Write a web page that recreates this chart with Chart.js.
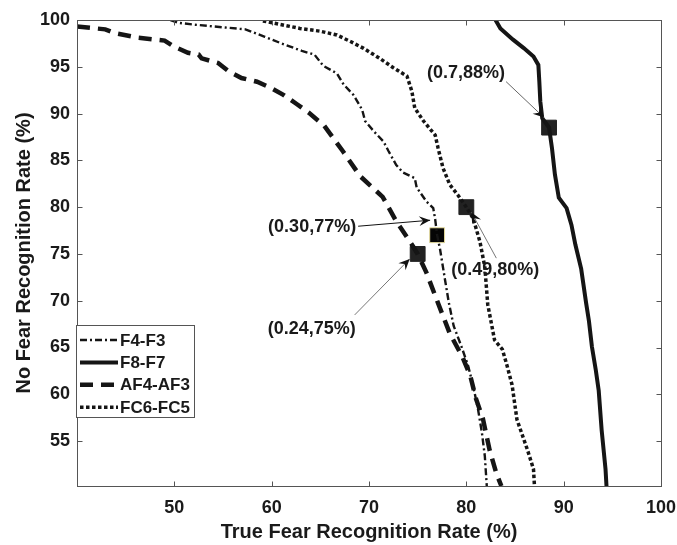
<!DOCTYPE html>
<html><head><meta charset="utf-8">
<script src="https://cdn.jsdelivr.net/npm/chart.js@4"></script>
<style>html,body{margin:0;padding:0;background:#fff;}#wrap{width:677px;height:545px;position:relative;}</style>
</head><body><div id="wrap"><canvas id="c" width="677" height="545"></canvas></div>
<script>
// ---- data ----
const xTicks = [50, 60, 70, 80, 90, 100];
const yTicks = [55, 60, 65, 70, 75, 80, 85, 90, 95, 100];
const seriesNames = ['F4-F3', 'F8-F7', 'AF4-AF3', 'FC6-FC5'];

const f43X = [49.6, 50.4, 52.1, 55.2, 57.3, 59.3, 61.0, 63.1, 64.4, 65.3, 66.7, 67.4, 68.4, 69.3, 69.6, 70.5, 71.5, 72.0, 72.8, 73.5, 74.7, 74.9, 75.9, 76.6, 76.8, 77.0, 77.3, 77.8, 78.2, 78.7, 79.5, 80.2, 80.7, 81.2, 81.6, 81.9, 82.1];
const f43Y = [100, 99.7, 99.5, 99.2, 99.0, 98.2, 97.5, 96.7, 96.3, 95.1, 94.3, 93.1, 92.0, 90.4, 89.2, 88.1, 87.0, 86.0, 84.5, 83.7, 83.1, 82.1, 80.6, 79.9, 78.7, 77.0, 75.5, 72.3, 69.8, 67.3, 65.1, 63.0, 60.9, 58.4, 55.9, 53.4, 50.2];

const f87X = [83.0, 83.5, 84.8, 85.9, 86.9, 87.4, 87.5, 87.6, 87.8, 88.5, 88.8, 89.1, 89.5, 90.3, 90.8, 91.2, 91.8, 92.3, 92.6, 92.9, 93.3, 93.6, 93.9, 94.3, 94.4];
const f87Y = [100, 99.1, 97.9, 97.0, 96.1, 95.2, 93.4, 91.3, 89.5, 88.5, 86.3, 83.5, 81.0, 79.9, 78.1, 76.0, 73.4, 69.8, 67.8, 65.1, 62.6, 60.4, 56.2, 52.0, 50.2];

const af43X = [40.0, 42.9, 43.9, 46.3, 49.0, 49.9, 51.4, 52.5, 52.8, 54.5, 55.6, 56.9, 58.5, 60.0, 61.2, 62.6, 63.8, 65.4, 67.3, 69.1, 71.4, 72.8, 74.4, 75.0, 75.9, 77.0, 78.3, 79.6, 80.4, 81.0, 81.7, 82.4, 83.1, 83.6];
const af43Y = [99.3, 99.0, 98.6, 98.1, 97.8, 97.2, 96.5, 96.3, 95.9, 95.4, 94.5, 93.8, 93.4, 92.7, 92.0, 91.0, 90.1, 88.7, 86.0, 83.3, 81.1, 78.5, 76.0, 75.0, 73.0, 70.0, 66.5, 64.0, 62.0, 59.5, 57.4, 54.0, 51.5, 50.2];

const fc65X = [59.1, 62.9, 65.0, 66.7, 68.1, 69.4, 71.1, 72.5, 73.9, 74.4, 74.7, 75.6, 76.8, 77.1, 77.6, 78.3, 79.2, 80.0, 80.7, 81.4, 81.9, 82.2, 82.9, 83.7, 84.2, 84.7, 85.2, 86.3, 86.9, 87.0];
const fc65Y = [99.9, 99.1, 98.8, 98.4, 97.7, 97.0, 95.9, 94.9, 94.0, 92.4, 90.6, 89.2, 87.7, 86.3, 84.2, 82.4, 81.2, 80.0, 78.8, 76.3, 73.6, 69.6, 65.8, 64.8, 63.0, 61.0, 57.3, 54.0, 52.0, 50.2];

const markerLabels = ['(0.30,77%)', '(0.7,88%)', '(0.24,75%)', '(0.49,80%)'];
const markerX = [77, 88.5, 75, 80];
const markerY = [77, 88.5, 75, 80];

// ---- styles ----
const FONT = '"Liberation Sans", Arial, Helvetica, sans-serif';
const INK = '#151515';
const pts = (xs, ys) => xs.map((x, i) => ({x: x, y: ys[i]}));

const annoStyle = [
  {dx: -125, dy: -8,  tail: [-79, -9], head: [-7, -15], line: '#111'},
  {dx: -83,  dy: -55, tail: [-43, -46], head: [-5, -10], line: '#666'},
  {dx: -106, dy: 75,  tail: [-63, 61], head: [-8, 5],   line: '#777'},
  {dx: 29,   dy: 63,  tail: [30, 51],  head: [5, 5],    line: '#777'}
];

const seriesStyle = [
  {width: 2.4, dash: [7, 3, 2, 3]},
  {width: 4,   dash: []},
  {width: 4.5, dash: [13, 8]},
  {width: 3.5, dash: [3.5, 2.5]}
];

function mkLine(i, data) {
  return {
    label: seriesNames[i], data: data, showLine: true, pointRadius: 0,
    borderColor: INK, borderWidth: seriesStyle[i].width, borderDash: seriesStyle[i].dash,
    borderCapStyle: 'butt', tension: 0, fill: false
  };
}

function arrowHead(ctx, x1, y1, x2, y2) {
  const a = Math.atan2(y2 - y1, x2 - x1);
  const L = 11, W = 5, N = 7;
  ctx.save();
  ctx.translate(x2, y2); ctx.rotate(a);
  ctx.beginPath();
  ctx.moveTo(0, 0);
  ctx.lineTo(-L, -W);
  ctx.lineTo(-N, 0);
  ctx.lineTo(-L, W);
  ctx.closePath();
  ctx.fillStyle = '#111';
  ctx.fill();
  ctx.restore();
}

const decor = {
  id: 'decor',
  afterDatasetsDraw(chart) {
    const ctx = chart.ctx, a = chart.chartArea;
    const xs = chart.scales.x, ys = chart.scales.y;
    ctx.save();
    // box and inward ticks
    ctx.strokeStyle = '#555'; ctx.lineWidth = 1; ctx.setLineDash([]);
    const L = Math.round(a.left) + 0.5, R = Math.round(a.right) + 0.5;
    const T = Math.round(a.top) + 0.5, B = Math.round(a.bottom) + 0.5;
    ctx.strokeRect(L, T, R - L, B - T);
    ctx.beginPath();
    xTicks.forEach(v => {
      const p = Math.round(xs.getPixelForValue(v)) + 0.5;
      ctx.moveTo(p, B); ctx.lineTo(p, B - 5);
      ctx.moveTo(p, T); ctx.lineTo(p, T + 5);
    });
    yTicks.forEach(v => {
      const p = Math.round(ys.getPixelForValue(v)) + 0.5;
      ctx.moveTo(L, p); ctx.lineTo(L + 5, p);
      ctx.moveTo(R, p); ctx.lineTo(R - 5, p);
    });
    ctx.stroke();

    // annotations
    markerLabels.forEach((t, i) => {
      const mx = xs.getPixelForValue(markerX[i]), my = ys.getPixelForValue(markerY[i]);
      const s = annoStyle[i];
      const x1 = mx + s.tail[0], y1 = my + s.tail[1], x2 = mx + s.head[0], y2 = my + s.head[1];
      ctx.strokeStyle = s.line; ctx.lineWidth = 1;
      ctx.beginPath(); ctx.moveTo(x1, y1); ctx.lineTo(x2, y2); ctx.stroke();
      arrowHead(ctx, x1, y1, x2, y2);
      ctx.fillStyle = '#1a1a1a';
      ctx.font = 'bold 18px ' + FONT;
      ctx.textAlign = 'center'; ctx.textBaseline = 'middle';
      ctx.fillText(t, mx + s.dx, my + s.dy);
    });

    // legend
    const lx = 76.5, ly = 325.5, lw = 118, lh = 92;
    ctx.fillStyle = '#fff';
    ctx.fillRect(lx, ly, lw, lh);
    ctx.strokeStyle = '#555'; ctx.lineWidth = 1; ctx.setLineDash([]);
    ctx.strokeRect(lx, ly, lw, lh);
    chart.data.datasets.slice(0, 4).forEach((d, i) => {
      const yy = 340 + i * 22.4;
      ctx.save();
      ctx.strokeStyle = d.borderColor; ctx.lineWidth = d.borderWidth;
      ctx.setLineDash(d.borderDash); ctx.lineCap = 'butt';
      ctx.beginPath(); ctx.moveTo(80, yy); ctx.lineTo(118, yy); ctx.stroke();
      ctx.restore();
      ctx.fillStyle = '#1a1a1a';
      ctx.font = 'bold 17px ' + FONT;
      ctx.textAlign = 'left'; ctx.textBaseline = 'middle';
      ctx.fillText(d.label, 120, yy + 1);
    });
    ctx.restore();
  }
};

new Chart(document.getElementById('c'), {
  type: 'scatter',
  data: {
    datasets: [
      mkLine(0, pts(f43X, f43Y)),
      mkLine(1, pts(f87X, f87Y)),
      mkLine(2, pts(af43X, af43Y)),
      mkLine(3, pts(fc65X, fc65Y)),
      {
        label: 'markers', data: pts(markerX, markerY), showLine: false,
        pointStyle: 'rect', pointRadius: 10.5, pointHoverRadius: 10.5,
        backgroundColor: ['#050505', '#222', '#222', '#222'],
        borderColor: ['#e6dc9c', '#222', '#222', '#222'],
        borderWidth: 1
      }
    ]
  },
  options: {
    responsive: false, animation: false, devicePixelRatio: 1,
    layout: {padding: {top: 20, right: 16, bottom: 0, left: 0}},
    plugins: {legend: {display: false}, tooltip: {enabled: false}},
    scales: {
      x: {
        type: 'linear', min: 40, max: 100,
        afterBuildTicks: s => { s.ticks = xTicks.map(v => ({value: v})); },
        afterFit: s => { s.height = 59; s.paddingLeft = 0; s.paddingRight = 0; },
        grid: {display: false, drawTicks: false}, border: {display: false},
        ticks: {color: '#1a1a1a', padding: 11, font: {family: FONT, size: 18, weight: 'bold'}},
        title: {display: true, text: 'True Fear Recognition Rate (%)', color: '#1a1a1a',
          padding: {top: 0, bottom: 2.5}, font: {family: FONT, size: 20, weight: 'bold', lineHeight: 1}}
      },
      y: {
        type: 'linear', min: 50.2, max: 100,
        afterBuildTicks: s => { s.ticks = yTicks.map(v => ({value: v})); },
        afterFit: s => { s.width = 77; s.paddingTop = 0; s.paddingBottom = 0; },
        grid: {display: false, drawTicks: false}, border: {display: false},
        ticks: {color: '#1a1a1a', padding: 7, font: {family: FONT, size: 18, weight: 'bold'}},
        title: {display: true, text: 'No Fear Recognition Rate (%)', color: '#1a1a1a',
          padding: {top: 14, bottom: 0}, font: {family: FONT, size: 20, weight: 'bold', lineHeight: 1}}
      }
    }
  },
  plugins: [decor]
});
</script></body></html>
